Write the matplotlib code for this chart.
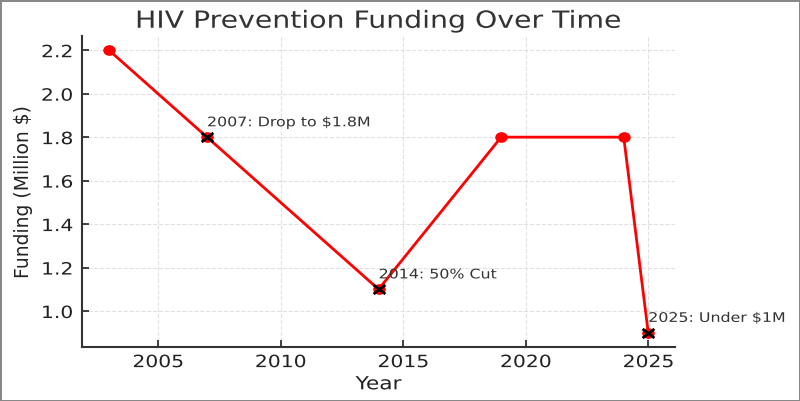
import matplotlib
matplotlib.use("Agg")
import matplotlib.pyplot as plt
from matplotlib import patheffects
from matplotlib.path import Path
from matplotlib.transforms import Affine2D

years = [2003, 2007, 2014, 2019, 2024, 2025]
funding = [2.2, 1.8, 1.1, 1.8, 1.8, 0.9]
event_years = [2007, 2014, 2025]
event_funding = [1.8, 1.1, 0.9]
event_labels = ["2007: Drop to $1.8M", "2014: 50% Cut", "2025: Under $1M"]

SX = 1.2  # the reference looks stretched sideways


class StretchX(patheffects.AbstractPathEffect):
    def __init__(self, sx=SX, anchor="center"):
        super().__init__()
        self.sx, self.anchor = sx, anchor

    def draw_path(self, renderer, gc, tpath, affine, rgbFace=None):
        xs = affine.transform(tpath.vertices)[:, 0]
        x0 = {"left": xs.min(), "right": xs.max(),
              "center": 0.5 * (xs.min() + xs.max())}[self.anchor]
        t = affine + Affine2D().translate(-x0, 0).scale(self.sx, 1).translate(x0, 0)
        renderer.draw_path(gc, tpath, t, rgbFace)


circ = Path.unit_circle().transformed(Affine2D().scale(SX, 1))
cross = Path([(-1.3, -1), (1.3, 1), (-1.3, 1), (1.3, -1)],
             [Path.MOVETO, Path.LINETO, Path.MOVETO, Path.LINETO])

fig = plt.figure(figsize=(8, 4.01), dpi=100)
fig.patch.set_edgecolor("#888888")
fig.patch.set_linewidth(2)
ax = fig.add_axes([0.1025, 0.135, 0.7415, 0.775])

ax.plot(years, funding, color="red", marker=circ, markersize=8, lw=2)
ax.plot(event_years, event_funding, ls="none", marker=cross, color="black",
        markersize=8.5, mew=2)
for x, y, t in zip(event_years, event_funding, event_labels):
    ax.text(x, y + 0.05, t, fontsize=9.5, color="#333333",
            path_effects=[StretchX(anchor="left")])

ax.set_title("HIV Prevention Funding Over Time", fontsize=17, color="#333333",
             path_effects=[StretchX()])
ax.set_xlabel("Year", fontsize=13, color="#222222", labelpad=3,
              path_effects=[StretchX()])
ax.set_ylabel("Funding (Million $)", fontsize=13.5, color="#222222", labelpad=9.5)
ax.set_xticks([2005, 2010, 2015, 2020, 2025])
ax.set_yticks([1.0, 1.2, 1.4, 1.6, 1.8, 2.0, 2.2])
ax.tick_params(direction="in", labelsize=12.2, colors="#222222", length=5, width=1.2)
ax.tick_params(axis="y", pad=6.5)
ax.tick_params(axis="x", pad=4.5)
for lab in ax.get_xticklabels():
    lab.set_path_effects([StretchX()])
for lab in ax.get_yticklabels():
    lab.set_path_effects([StretchX(anchor="right")])
ax.grid(True, ls="--", color="#e0e0e0", lw=0.8)
for s in ["top", "right"]:
    ax.spines[s].set_visible(False)
for s in ["left", "bottom"]:
    ax.spines[s].set_color("#333333")
    ax.spines[s].set_linewidth(1.5)

fig.savefig("out.png", dpi=100)
